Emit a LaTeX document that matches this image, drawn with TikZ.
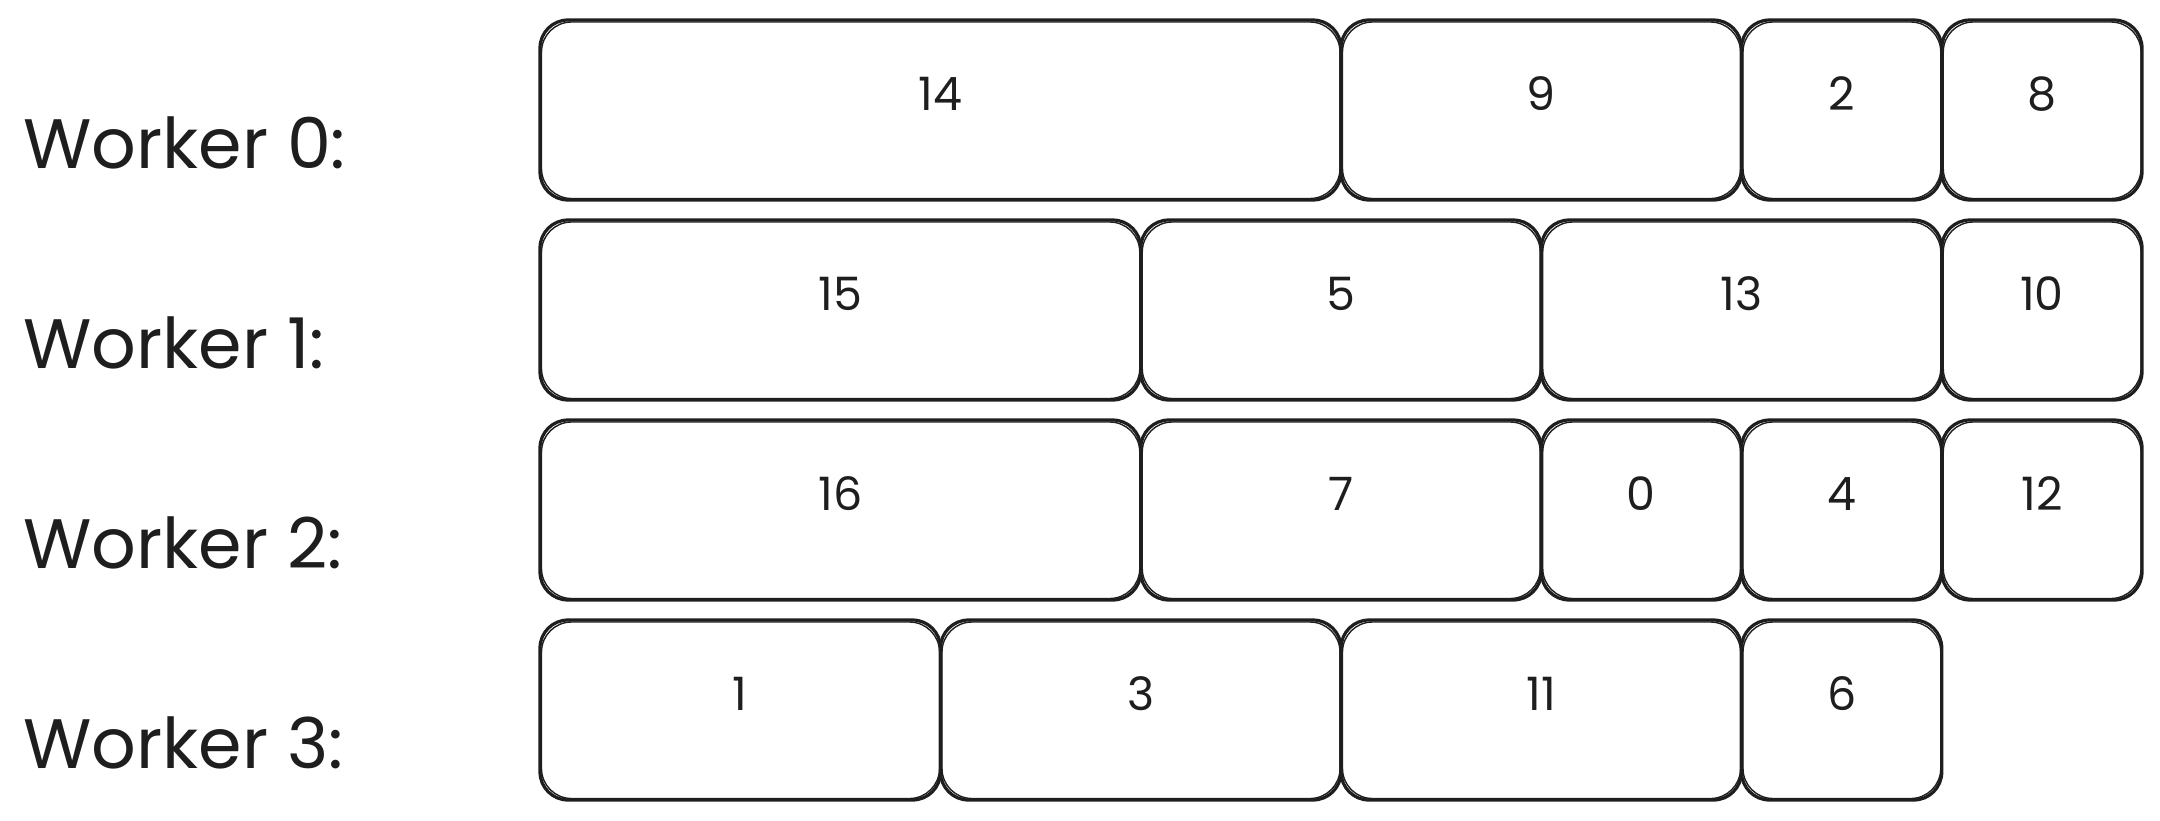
\documentclass[tikz,border=0pt]{standalone}
\usepackage{fontspec}
\setmainfont{Poppins}
\definecolor{inkBlack}{HTML}{1E1E1E}

\begin{document}
\begin{tikzpicture}[x=1pt, y=-1pt, color=inkBlack,
  cell/.style={draw, line width=3.2pt, rounded corners=28pt, minimum height=180pt,
    inner sep=0pt, outer sep=0pt, anchor=north west},
  ghost/.style={line width=1.4pt, rounded corners=30pt},
  num/.style={font=\fontsize{46}{50}\selectfont, anchor=base},
  worker/.style={font=\fontsize{70}{74}\selectfont, anchor=base west}]
  \useasboundingbox (0,0) rectangle (2160,820);
  \def\u{200.25}
  % one row per worker: task/width in units
  \foreach \tasks [count=\r from 0] in {{14/4,9/2,2/1,8/1},{15/3,5/2,13/2,10/1},{16/3,7/2,0/1,4/1,12/1},{1/2,3/2,11/2,6/1}} {
    \node[worker] (w\r) at (20,{168+200*\r}) {Worker \r:};
    \foreach \t/\w [remember=\e as \s (initially 0), evaluate=\w as \e using \s+\w] in \tasks {
      \node[cell, minimum width={\w*\u*1pt}] (t\t) at ({540+\s*\u},{20+200*\r}) {};
      \draw[ghost] ([shift={(1.5,2)}]t\t.north west) rectangle ([shift={(-1,-1.5)}]t\t.south east);
      \node[num] (n\t) at ([yshift=-90pt]t\t.north) {\t};
    }
  }
\end{tikzpicture}
\end{document}
